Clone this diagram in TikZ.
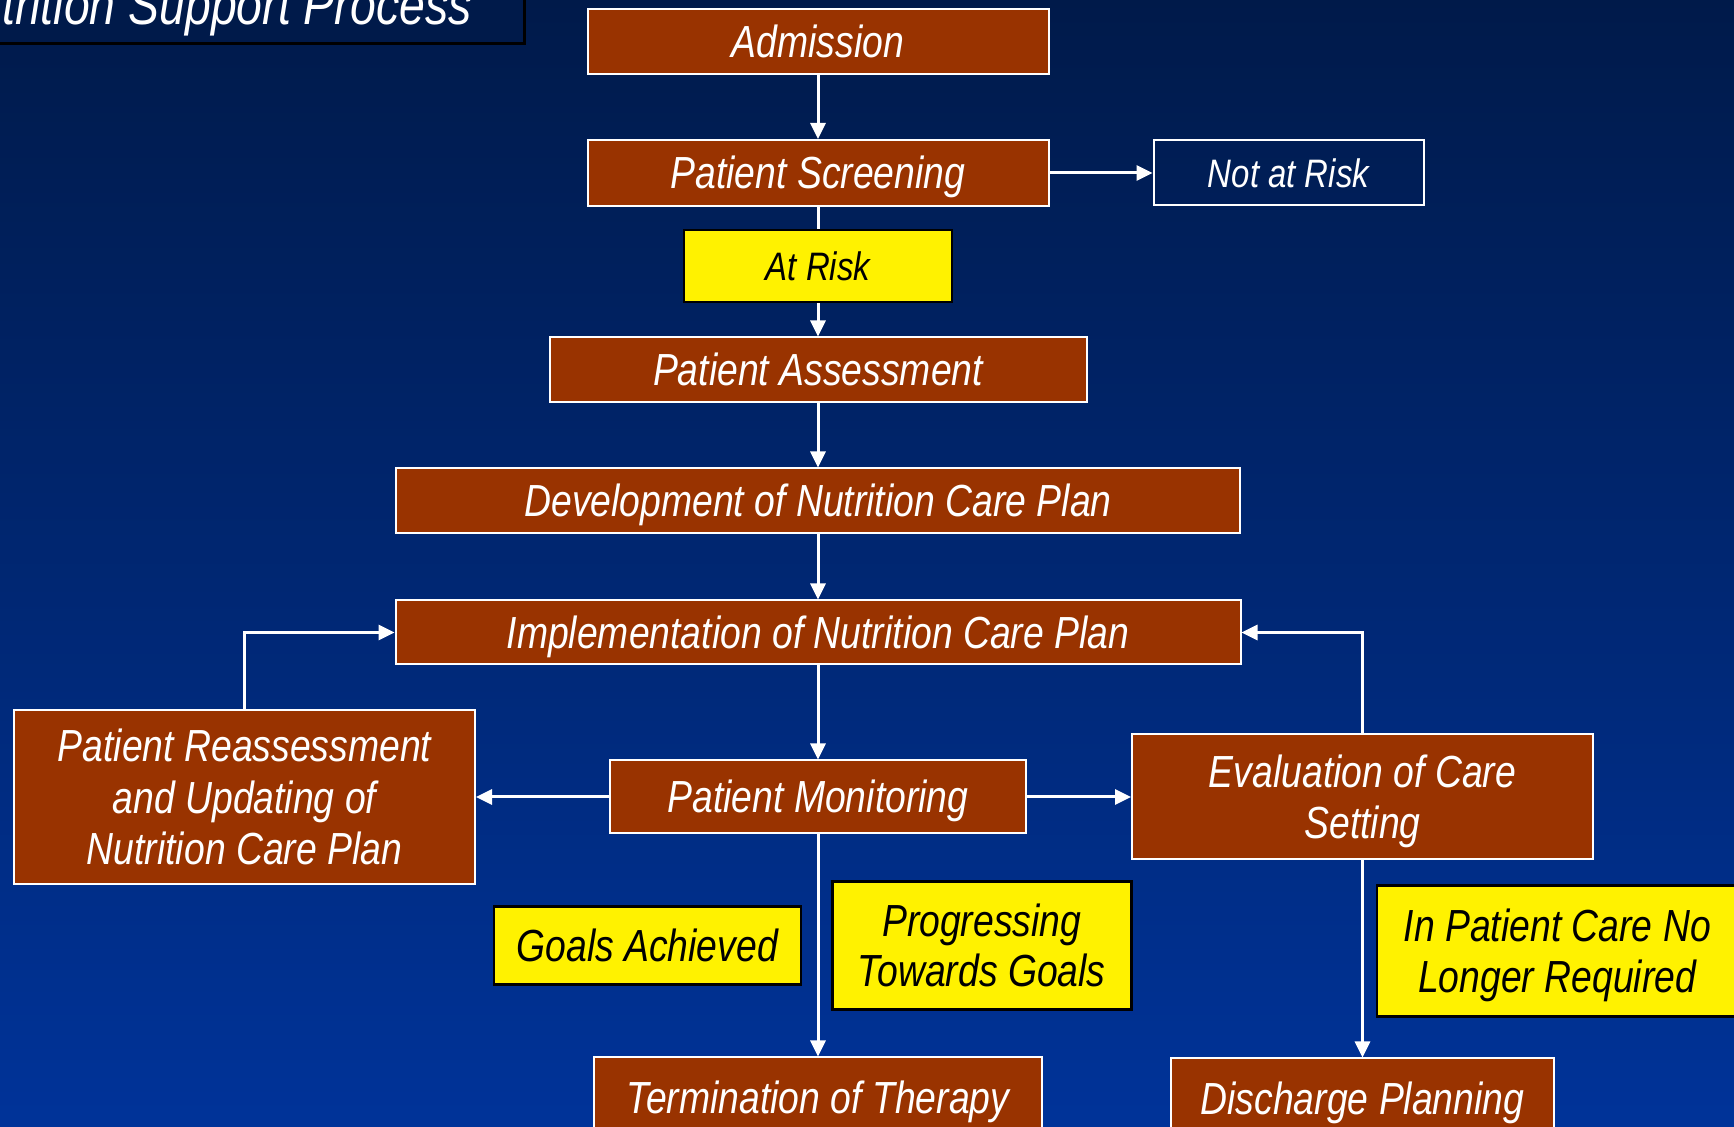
\documentclass[tikz,border=0pt]{standalone}
\usepackage{fontspec}
\setmainfont{Liberation Sans}[FakeStretch=0.83]
\usetikzlibrary{calc, positioning, arrows.meta}
\definecolor{brick}{RGB}{153,51,0}
\definecolor{navytop}{RGB}{0,26,74}
\definecolor{navybot}{RGB}{0,51,153}
\tikzset{
node distance = 0.65cm and 1cm,
stage/.style={
	draw=white,
	line width=0.02cm,
	fill=brick,
	text=white,
	inner sep=0pt,
	align=center,
	text height=0.32cm,
	text depth=0pt,
	font=\fontsize{12.8}{14.7}\selectfont\itshape,
},
cond/.style={
	draw=black,
	line width=0.025cm,
	fill=yellow,
	text=black,
	inner sep=0pt,
	align=center,
	text height=0.32cm,
	text depth=0pt,
	font=\fontsize{12.8}{14.3}\selectfont\itshape,
},
small/.style={
	font=\fontsize{11.3}{13}\selectfont\itshape,
	text height=0.285cm,
},
twolines/.style={text height=0.837cm},
threelines/.style={text height=1.354cm},
flow/.style={
	draw=white,
	line width=0.03cm,
	-{Triangle[length=0.16cm, width=0.15cm]},
}
}

\begin{document}
\begin{tikzpicture}
		% Background
		\useasboundingbox (0,0) rectangle (17.34,-11.27);
		\shade[top color=navytop, bottom color=navybot] (0,0) rectangle (17.34,-11.27);
		
		% Title (cut by the page edge)
		\node[draw=black, line width=0.03cm, fill=navytop, text=white, anchor=base east,
			inner xsep=0.53cm, inner ysep=0pt, text height=1cm, text depth=0.19cm,
			font=\fontsize{15.9}{18}\selectfont\itshape] (title) at (5.26,-0.25) {Nutrition Support Process};
		
		% Main column
		\node[stage, minimum width=4.61cm, minimum height=0.65cm] (adm) at (8.18,-0.415) {Admission};
		\node[stage, below=0.64 of adm, minimum width=4.61cm, minimum height=0.66cm] (scr) {Patient Screening};
		\node[cond, small, below=0.22 of scr, minimum width=2.68cm, minimum height=0.72cm] (risk) {At Risk};
		\node[stage, below=0.33 of risk, minimum width=5.37cm, minimum height=0.65cm] (ass) {Patient Assessment};
		\node[stage, below=0.64 of ass, minimum width=8.44cm, minimum height=0.65cm] (dev) {Development of Nutrition Care Plan};
		\node[stage, below=0.65 of dev, minimum width=8.45cm, minimum height=0.64cm] (imp) {Implementation of Nutrition Care Plan};
		\node[stage, below=0.94 of imp, minimum width=4.16cm, minimum height=0.73cm] (mon) {Patient Monitoring};
		\node[stage, below=2.22 of mon, minimum width=4.48cm, minimum height=0.80cm] (term) {Termination of Therapy};
		
		% Side boxes
		\node[stage, small, right=1.03 of scr, fill=none, minimum width=2.70cm, minimum height=0.65cm] (nrisk) {Not at Risk};
		\node[stage, threelines, left=1.33 of mon, minimum width=4.61cm, minimum height=1.74cm] (reas) {Patient Reassessment\\and Updating of\\Nutrition Care Plan};
		\node[stage, twolines, right=1.04 of mon, minimum width=4.61cm, minimum height=1.25cm] (eval) {Evaluation of Care\\Setting};
		\node[stage, below=1.97 of eval, minimum width=3.83cm, minimum height=0.80cm] (disch) {Discharge Planning};
		
		% Conditions
		\coordinate (mid1) at ($(mon.south)!0.5!(term.north)$);
		\coordinate (mid2) at ($(eval.south)!0.5!(disch.north)$);
		\node[cond, left=0.16 of mid1, minimum width=3.07cm, minimum height=0.78cm] (goals) {Goals Achieved};
		\node[cond, right=0.13 of mid1, minimum width=2.99cm, minimum height=1.28cm, text height=0.823cm] (prog) {Progressing\\Towards Goals};
		\node[cond, right=0.13 of mid2, yshift=0.08cm, minimum width=3.61cm, minimum height=1.31cm, text height=0.823cm] (inpat) {In Patient Care No\\Longer Required};
		
		% Connections
		\draw[flow] (adm) -- (scr);
		\draw[flow] (scr.east) -- (scr.east -| nrisk.west);
		\draw[flow, -] (scr) -- (risk);
		\draw[flow] (risk) -- (ass);
		\draw[flow] (ass) -- (dev);
		\draw[flow] (dev) -- (imp);
		\draw[flow] (imp) -- (mon);
		
		% Monitoring ->
		\draw[flow] (mon) -- (reas);
		\draw[flow] (mon) -- (eval);
		\draw[flow] (mon) -- (term);
		
		% Back to implementation
		\draw[flow] (reas.north) |- (imp.west);
		\draw[flow] (eval.north) |- (imp.east);
		
		% Evaluation ->
		\draw[flow] (eval) -- (disch);
	\end{tikzpicture}
\end{document}
